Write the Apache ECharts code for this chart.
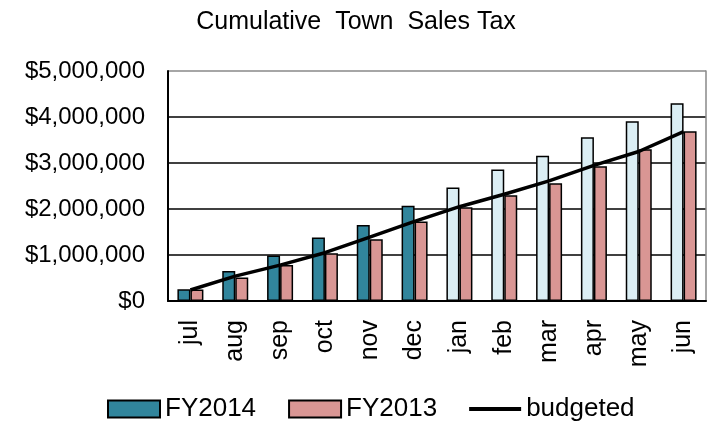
<!DOCTYPE html>
<html>
<head>
<meta charset="utf-8">
<script src="https://cdn.jsdelivr.net/npm/echarts@6/dist/echarts.min.js"></script>
<style>html,body{margin:0;padding:0;background:#fff}#c{width:708px;height:425px}</style>
</head>
<body>
<div id="c"></div>
<script>
var months = ['jul','aug','sep','oct','nov','dec','jan','feb','mar','apr','may','jun'];
var fy2014 = [254000, 650000, 990000, 1380000, 1650000, 2070000, 2470000, 2860000, 3160000, 3560000, 3910000, 4300000];
var fy2013 = [250000, 510000, 780000, 1040000, 1340000, 1730000, 2040000, 2300000, 2560000, 2930000, 3300000, 3690000];
var budgeted = [240000, 540000, 780000, 1050000, 1390000, 1730000, 2050000, 2320000, 2610000, 2950000, 3250000, 3680000];
var yTickLabels = ['$0', '$1,000,000', '$2,000,000', '$3,000,000', '$4,000,000', '$5,000,000'];
var actualMonthCount = 6;

var TEAL = '#31859C', LIGHT = '#DBEEF4', PINK = '#D99694';
var FONT = 'Liberation Sans, Arial, sans-serif';

var fy14Data = fy2014.map(function (v, i) {
  return i < actualMonthCount ? v : { value: v, itemStyle: { color: LIGHT } };
});

var chart = echarts.init(document.getElementById('c'), null, { renderer: 'canvas' });
chart.setOption({
  animation: false,
  backgroundColor: '#fff',
  title: {
    text: 'Cumulative  Town  Sales Tax',
    left: 351, textAlign: 'center', top: 5,
    textStyle: { fontFamily: FONT, fontSize: 25, fontWeight: 'normal', color: '#000' }
  },
  grid: { left: 168, right: 2, top: 71, bottom: 124, containLabel: false },
  legend: {
    left: 102, top: 391,
    itemWidth: 52, itemHeight: 17, itemGap: 32,
    textStyle: { fontFamily: FONT, fontSize: 26, color: '#000' },
    data: [
      { name: 'FY2014', icon: 'rect' },
      { name: 'FY2013', icon: 'rect' },
      { name: 'budgeted', icon: 'path://M0 0H52V4H0Z' }
    ]
  },
  xAxis: {
    type: 'category', data: months,
    axisLine: { lineStyle: { color: '#000', width: 2 } },
    axisTick: { show: false },
    axisLabel: { rotate: 90, margin: 19, fontFamily: FONT, fontSize: 25, color: '#000' }
  },
  yAxis: [{
    type: 'value', min: 0, max: 5000000, interval: 1000000,
    axisLine: { show: true, lineStyle: { color: '#000', width: 2 } },
    axisTick: { show: false },
    axisLabel: {
      margin: 23, fontFamily: FONT, fontSize: 24, color: '#000',
      formatter: function (v) { return yTickLabels[Math.round(v / 1000000)]; }
    },
    splitLine: { lineStyle: { color: ['#000', '#000', '#000', '#000', '#000', '#888'], width: 1.5 } }
  }, {
    type: 'value', position: 'right', min: 0, max: 5000000, interval: 1000000,
    axisLine: { show: true, lineStyle: { color: '#888', width: 1.5 } },
    axisTick: { show: false }, axisLabel: { show: false }, splitLine: { show: false }
  }],
  series: [
    {
      name: 'FY2014', type: 'bar', data: fy14Data, barWidth: 13, barGap: '0%',
      itemStyle: { color: TEAL, borderColor: '#000', borderWidth: 1.5 }
    },
    {
      name: 'FY2013', type: 'bar', data: fy2013, barWidth: 13, barGap: '0%',
      itemStyle: { color: PINK, borderColor: '#000', borderWidth: 1.5 }
    },
    {
      name: 'budgeted', type: 'line', data: budgeted, symbol: 'none', smooth: false,
      lineStyle: { color: '#000', width: 3.5 }, itemStyle: { color: '#000' }, z: 5
    }
  ]
});
</script>
</body>
</html>
